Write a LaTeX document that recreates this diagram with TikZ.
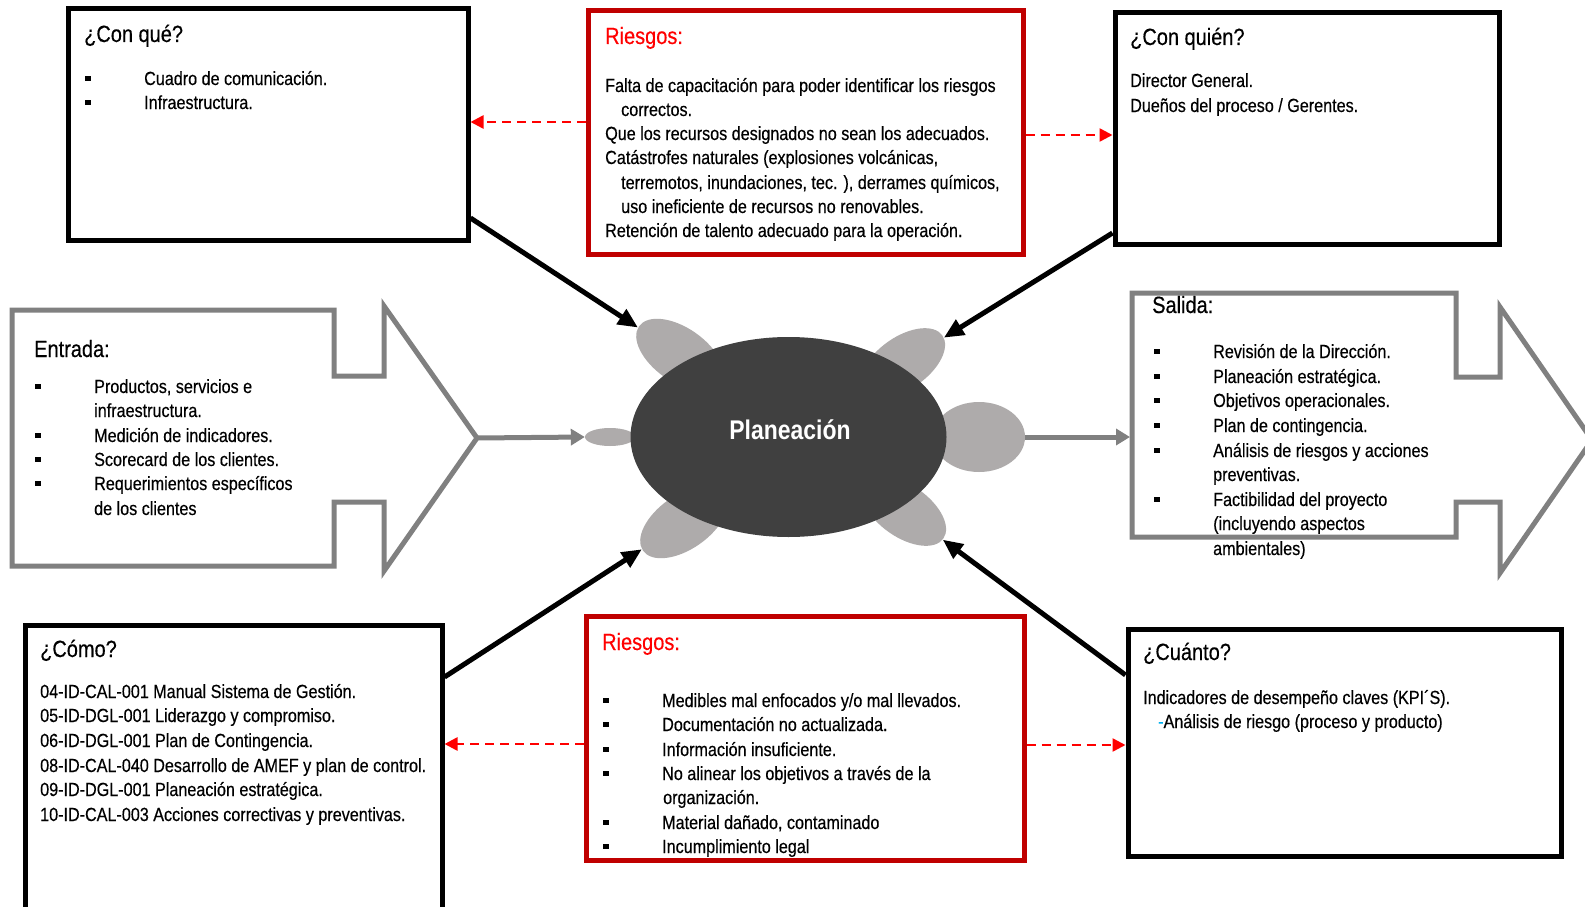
\documentclass[tikz,border=0pt]{standalone}
\usepackage{fontspec}
\setmainfont{Liberation Sans}[FakeStretch=0.85]
\newfontfamily\narrowtext{Liberation Sans}[FakeStretch=0.85, FakeBold=0.4]
\usetikzlibrary{arrows.meta,shapes.geometric}
\definecolor{boxred}{HTML}{C00000}
\definecolor{shapegray}{HTML}{808080}
\definecolor{petalgray}{HTML}{AEABAB}
\definecolor{coregray}{HTML}{404040}
\definecolor{dashblue}{HTML}{00B0F0}
% square bullet followed by the hanging indent
\newcommand\sqbul{\makebox[59pt][l]{\rule[4pt]{5.5pt}{5.5pt}}}
\begin{document}
\begin{tikzpicture}[x=1pt,y=-1pt,
  bodytxt/.style={font=\narrowtext\fontsize{19pt}{24pt}\selectfont, anchor=base west, inner sep=0pt},
  headtxt/.style={font=\narrowtext\fontsize{23.5pt}{28pt}\selectfont, anchor=base west, inner sep=0pt},
  blkbox/.style={rectangle, draw=black, line width=5pt, inner sep=0pt},
  redbox/.style={rectangle, draw=boxred, line width=5pt, inner sep=0pt},
  ioshape/.style={draw=shapegray, line width=5pt, line join=miter},
  petal/.style={ellipse, fill=petalgray, inner sep=0pt},
  core/.style={ellipse, fill=coregray, inner sep=0pt},
  blkarrow/.style={draw=black, line width=5pt, -{Triangle[length=20pt,width=17pt]}},
  grayarrow/.style={draw=shapegray, line width=5pt, -{Triangle[length=14pt,width=16pt]}},
  riskarrow/.style={draw=red, line width=2.5pt, dash pattern=on 9pt off 6pt, -{Triangle[length=13pt,width=13pt]}},
]
\useasboundingbox (0,0) rectangle (1585,907);
\fill[white] (0,0) rectangle (1585,907);
\clip (0,0) rectangle (1585,907);

% ---- frames ----
\node[blkbox, minimum width=400pt, minimum height=231pt] (conque) at (268,124.5) {};
\node[redbox, minimum width=435pt, minimum height=243pt] (riesgo1) at (805.5,132.5) {};
\node[blkbox, minimum width=384pt, minimum height=231pt] (conquien) at (1307,128.5) {};
\node[blkbox, minimum width=417pt, minimum height=300pt] (como) at (233.5,775) {};
\node[redbox, minimum width=438pt, minimum height=244pt] (riesgo2) at (805,738) {};
\node[blkbox, minimum width=433pt, minimum height=227pt] (cuanto) at (1344.5,742.5) {};

% ---- input / output block arrows ----
\draw[ioshape] (12,310) -- (334,310) -- (334,376) -- (384,376) -- (384,306) -- (477,438)
  -- (384,571) -- (384,502) -- (334,502) -- (334,566) -- (12,566) -- cycle;
\coordinate (entip) at (477,438);
\draw[ioshape] (1132,293) -- (1456,293) -- (1456,377) -- (1500,377) -- (1500,307) -- (1592,440)
  -- (1500,573) -- (1500,502) -- (1456,502) -- (1456,537) -- (1132,537) -- cycle;
\coordinate (salin) at (1130,437);

% ---- central process with petals ----
\node[petal, minimum width=100pt, minimum height=54pt, rotate=-35] (pUL) at (680,355) {};
\node[petal, minimum width=96pt, minimum height=52pt, rotate=35] (pUR) at (903,363) {};
\node[petal, minimum width=92pt, minimum height=70pt] (pR) at (979,437) {};
\node[petal, minimum width=50pt, minimum height=18pt] (pL) at (610,437) {};
\node[petal, minimum width=100pt, minimum height=54pt, rotate=35] (pLL) at (684,522) {};
\node[petal, minimum width=96pt, minimum height=52pt, rotate=-35] (pLR) at (904,511) {};
\node[core, minimum width=316pt, minimum height=200pt] (core) at (788.5,437) {};
\node[font=\bfseries\fontsize{27pt}{32pt}\selectfont, text=white, anchor=base, inner sep=0pt] (plan) at (790,439) {Planeación};

% ---- connectors ----
\draw[grayarrow] (entip) -- (pL.west);
\draw[grayarrow] (pR.east) -- (salin);

\coordinate (a1) at (0,218);
\coordinate (a2) at (0,233);
\coordinate (a3) at (0,677);
\coordinate (a4) at (0,675);
\draw[blkarrow] (conque.east |- a1) -- (pUL);
\draw[blkarrow] (conquien.west |- a2) -- (pUR);
\draw[blkarrow] (como.east |- a3) -- (pLL);
\draw[blkarrow] (cuanto.west |- a4) -- (pLR);

\coordinate (r1) at (0,122);
\coordinate (r2) at (0,135);
\coordinate (r3) at (0,744);
\coordinate (r4) at (0,745);
\draw[riskarrow] (riesgo1.west |- r1) -- (conque.east |- r1);
\draw[riskarrow] (riesgo1.east |- r2) -- (conquien.west |- r2);
\draw[riskarrow] (riesgo2.west |- r3) -- (como.east |- r3);
\draw[riskarrow] (riesgo2.east |- r4) -- (cuanto.west |- r4);

% ---- ¿Con qué? ----
\node[headtxt] (cqT) at (84,42) {¿Con qué?};
\node[bodytxt] (cq1) at (85,85) {\sqbul Cuadro de comunicación.};
\node[bodytxt] (cq2) at (85,109) {\sqbul Infraestructura.};

% ---- Riesgos (top) ----
\node[headtxt, text=red] (r1T) at (605,44) {Riesgos:};
\node[bodytxt] (r1a) at (605,92) {Falta de capacitación para poder identificar los riesgos};
\node[bodytxt] (r1b) at (621,116) {correctos.};
\node[bodytxt] (r1c) at (605,140) {Que los recursos designados no sean los adecuados.};
\node[bodytxt] (r1d) at (605,164) {Catástrofes naturales (explosiones volcánicas,};
\node[bodytxt] (r1e) at (621,189) {terremotos, inundaciones, tec. ), derrames químicos,};
\node[bodytxt] (r1f) at (621,213) {uso ineficiente de recursos no renovables.};
\node[bodytxt] (r1g) at (605,237) {Retención de talento adecuado para la operación.};

% ---- ¿Con quién? ----
\node[headtxt] (cwT) at (1130,45) {¿Con quién?};
\node[bodytxt] (cw1) at (1130,87) {Director General.};
\node[bodytxt] (cw2) at (1130,112) {Dueños del proceso / Gerentes.};

% ---- Entrada ----
\node[headtxt] (enT) at (34,357) {Entrada:};
\node[bodytxt] (en1) at (35,393) {\sqbul Productos, servicios e};
\node[bodytxt] (en2) at (94,417) {infraestructura.};
\node[bodytxt] (en3) at (35,442) {\sqbul Medición de indicadores.};
\node[bodytxt] (en4) at (35,466) {\sqbul Scorecard de los clientes.};
\node[bodytxt] (en5) at (35,490) {\sqbul Requerimientos específicos};
\node[bodytxt] (en6) at (94,515) {de los clientes};

% ---- Salida ----
\node[headtxt] (saT) at (1152,313) {Salida:};
\node[bodytxt] (sa1) at (1154,358) {\sqbul Revisión de la Dirección.};
\node[bodytxt] (sa2) at (1154,383) {\sqbul Planeación estratégica.};
\node[bodytxt] (sa3) at (1154,407) {\sqbul Objetivos operacionales.};
\node[bodytxt] (sa4) at (1154,432) {\sqbul Plan de contingencia.};
\node[bodytxt] (sa5) at (1154,457) {\sqbul Análisis de riesgos y acciones};
\node[bodytxt] (sa6) at (1213,481) {preventivas.};
\node[bodytxt] (sa7) at (1154,506) {\sqbul Factibilidad del proyecto};
\node[bodytxt] (sa8) at (1213,530) {(incluyendo aspectos};
\node[bodytxt] (sa9) at (1213,555) {ambientales)};

% ---- ¿Cómo? ----
\node[headtxt] (coT) at (40,657) {¿Cómo?};
\node[bodytxt] (co1) at (40,698) {04-ID-CAL-001 Manual Sistema de Gestión.};
\node[bodytxt] (co2) at (40,722) {05-ID-DGL-001 Liderazgo y compromiso.};
\node[bodytxt] (co3) at (40,747) {06-ID-DGL-001 Plan de Contingencia.};
\node[bodytxt] (co4) at (40,772) {08-ID-CAL-040 Desarrollo de AMEF y plan de control.};
\node[bodytxt] (co5) at (40,796) {09-ID-DGL-001 Planeación estratégica.};
\node[bodytxt] (co6) at (40,821) {10-ID-CAL-003 Acciones correctivas y preventivas.};

% ---- Riesgos (bottom) ----
\node[headtxt, text=red] (r2T) at (602,650) {Riesgos:};
\node[bodytxt] (r2a) at (603,707) {\sqbul Medibles mal enfocados y/o mal llevados.};
\node[bodytxt] (r2b) at (603,731) {\sqbul Documentación no actualizada.};
\node[bodytxt] (r2c) at (603,756) {\sqbul Información insuficiente.};
\node[bodytxt] (r2d) at (603,780) {\sqbul No alinear los objetivos a través de la};
\node[bodytxt] (r2e) at (663,804) {organización.};
\node[bodytxt] (r2f) at (603,829) {\sqbul Material dañado, contaminado};
\node[bodytxt] (r2g) at (603,853) {\sqbul Incumplimiento legal};

% ---- ¿Cuánto? ----
\node[headtxt] (cuT) at (1143,660) {¿Cuánto?};
\node[bodytxt] (cu1) at (1143,704) {Indicadores de desempeño claves (KPI´S).};
\node[bodytxt] (cu2) at (1158,728) {\textcolor{dashblue}{-}Análisis de riesgo (proceso y producto)};
\end{tikzpicture}
\end{document}
